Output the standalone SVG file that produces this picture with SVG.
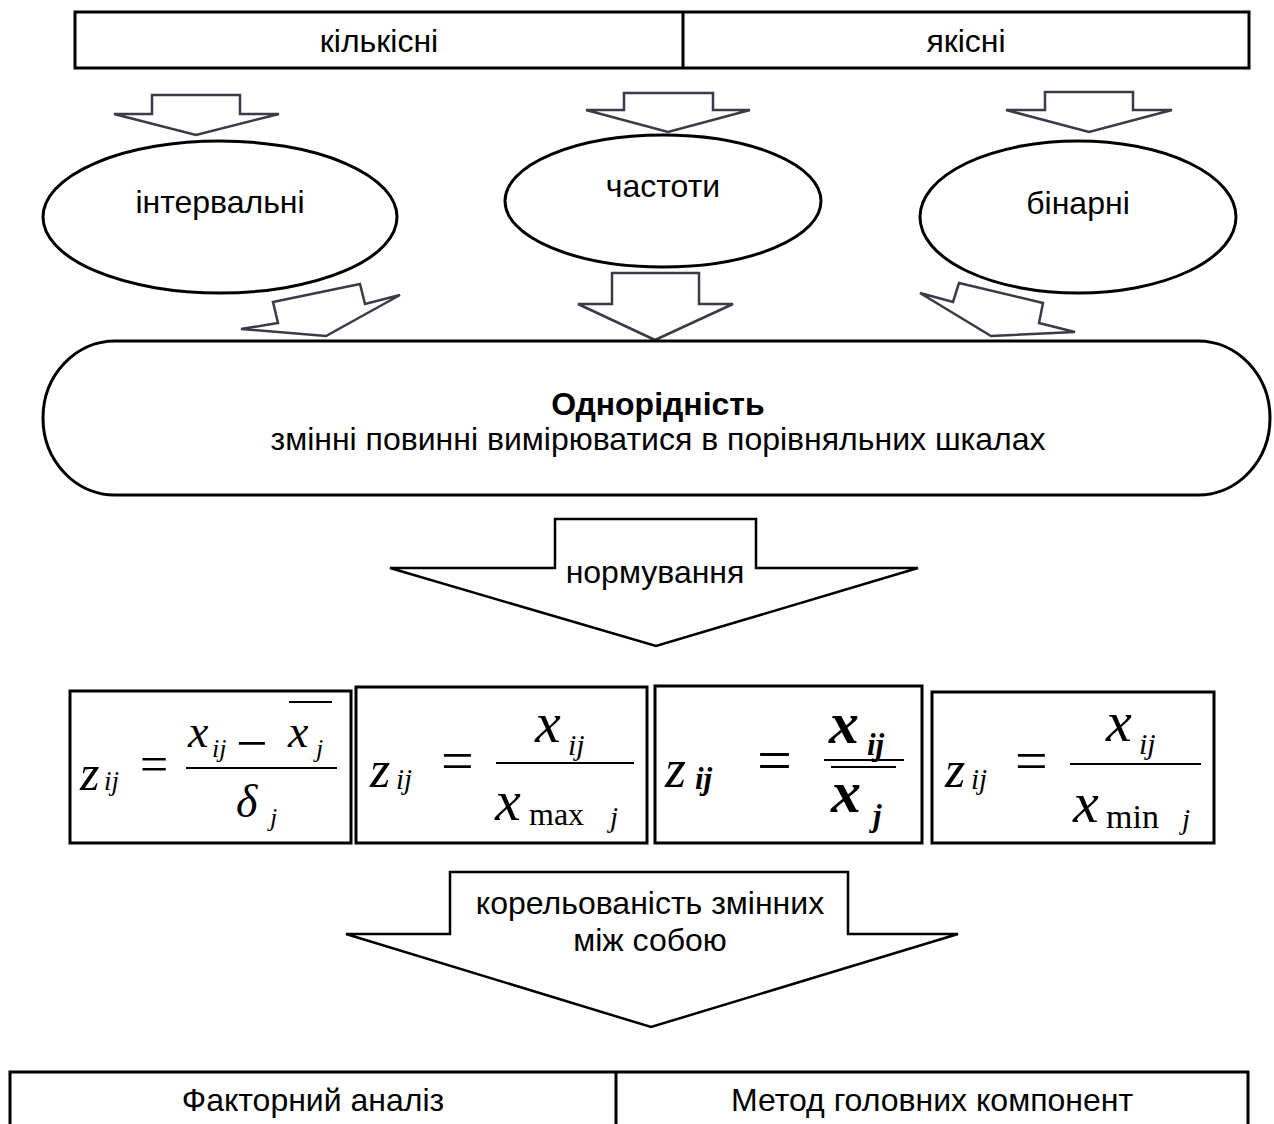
<svg xmlns="http://www.w3.org/2000/svg" width="1274" height="1124" viewBox="0 0 1274 1124">
<style>
.box{fill:#fff;stroke:#000;stroke-width:3}
.arr{fill:#fff;stroke:#3a3a48;stroke-width:2.5;stroke-linejoin:miter}
.barr{fill:#fff;stroke:#000;stroke-width:2.5}
.lbl{font-family:"Liberation Sans",Arial,sans-serif;font-size:32px;fill:#000;text-anchor:middle}
.m{font-family:"Liberation Serif","Times New Roman",serif;font-style:italic;fill:#000}
.r{font-family:"Liberation Serif","Times New Roman",serif;fill:#000}
.fl{stroke:#000;stroke-width:2}
</style>
<rect width="1274" height="1124" fill="#fff"/>
<g id="top-box">
<rect class="box" x="75" y="12" width="1174" height="56"/>
<line x1="683" y1="12" x2="683" y2="68" stroke="#000" stroke-width="3"/>
<text class="lbl" x="379" y="52">кількісні</text>
<text class="lbl" x="966" y="52">якісні</text>
</g>
<g id="connectors">
<polygon class="arr" points="152,95 240,95 240,114 279,114 196,135 114,114 152,114"/>
<polygon class="arr" points="624,93 713,93 713,110 750,110 668,132 586,110 624,110"/>
<polygon class="arr" points="1045,92 1133,92 1133,110 1172,110 1089,132 1006,110 1045,110"/>
<polygon class="arr" points="360,284 365,304 400,295 326,336 241,329 278,323 273,302"/>
<polygon class="arr" points="612,273 699,273 699,304 733,304 655,340 578,304 612,304"/>
<polygon class="arr" points="959,283 1043,303 1039,323 1075,332 991,336 920,293 953,302"/>
</g>
<g id="node-intervalni">
<ellipse class="box" cx="220" cy="217" rx="177" ry="76" stroke-width="2.5"/>
<text class="lbl" x="220" y="213">інтервальні</text>
</g>
<g id="node-chastoty">
<ellipse class="box" cx="663" cy="201" rx="158" ry="66" stroke-width="2.5"/>
<text class="lbl" x="663" y="197">частоти</text>
</g>
<g id="node-binarni">
<ellipse class="box" cx="1078" cy="217" rx="158" ry="76" stroke-width="2.5"/>
<text class="lbl" x="1078" y="214">бінарні</text>
</g>
<g id="node-odnoridnist">
<rect class="box" x="43" y="341" width="1227" height="154" rx="72" ry="77" stroke-width="3"/>
<text class="lbl" x="658" y="415" font-weight="bold">Однорідність</text>
<text class="lbl" x="658" y="450">змінні повинні вимірюватися в порівняльних шкалах</text>
</g>
<g id="node-normuvannia">
<polygon class="barr" points="555,519 756,519 756,568 918,568 656,646 390,568 555,568"/>
<text class="lbl" x="655" y="583">нормування</text>
</g>
<g id="formula-1">
<rect class="box" x="70" y="691" width="281" height="152"/>
<text class="m" x="80" y="790" font-size="50">z</text>
<text class="m" x="104" y="790" font-size="27">ij</text>
<text class="r" x="140" y="781" font-size="50">=</text>
<line class="fl" x1="186" y1="768" x2="337" y2="768"/>
<text class="m" x="188" y="747" font-size="46">x</text>
<text class="m" x="212" y="757" font-size="26">ij</text>
<text class="r" x="236" y="762" font-size="56">−</text>
<text class="m" x="288" y="747" font-size="46">x</text>
<text class="m" x="316" y="757" font-size="26">j</text>
<line class="fl" x1="289" y1="702" x2="332" y2="702"/>
<text class="m" x="236" y="817" font-size="46">δ</text>
<text class="m" x="270" y="826" font-size="26">j</text>
</g>
<g id="formula-2">
<rect class="box" x="356" y="687" width="291" height="156"/>
<text class="m" x="370" y="787" font-size="52">z</text>
<text class="m" x="396" y="789" font-size="29">ij</text>
<text class="r" x="441" y="780" font-size="58">=</text>
<line class="fl" x1="496" y1="763" x2="634" y2="763"/>
<text class="m" x="535" y="742" font-size="58">x</text>
<text class="m" x="568" y="755" font-size="30">ij</text>
<text class="m" x="495" y="820" font-size="58">x</text>
<text class="r" x="529" y="825" font-size="32">max</text>
<text class="m" x="610" y="827" font-size="29">j</text>
</g>
<g id="formula-3">
<rect class="box" x="655" y="686" width="267" height="157"/>
<text class="m" x="665" y="787" font-size="54">z</text>
<text class="m" x="695" y="789" font-size="31" font-weight="bold">ij</text>
<text class="r" x="757" y="781" font-size="62">=</text>
<line class="fl" x1="824" y1="760" x2="904" y2="760"/>
<line class="fl" x1="831" y1="767" x2="896" y2="767"/>
<text class="m" x="829" y="743" font-size="60" font-weight="bold">x</text>
<text class="m" x="867" y="755" font-size="31" font-weight="bold">ij</text>
<text class="m" x="831" y="812" font-size="60" font-weight="bold">x</text>
<text class="m" x="873" y="826" font-size="31" font-weight="bold">j</text>
</g>
<g id="formula-4">
<rect class="box" x="932" y="692" width="282" height="151"/>
<text class="m" x="945" y="787" font-size="52">z</text>
<text class="m" x="971" y="789" font-size="29">ij</text>
<text class="r" x="1015" y="780" font-size="58">=</text>
<line class="fl" x1="1070" y1="764" x2="1201" y2="764"/>
<text class="m" x="1106" y="741" font-size="58">x</text>
<text class="m" x="1139" y="754" font-size="30">ij</text>
<text class="m" x="1073" y="822" font-size="58">x</text>
<text class="r" x="1106" y="828" font-size="34">min</text>
<text class="m" x="1182" y="829" font-size="29">j</text>
</g>
<g id="node-korelovanist">
<polygon class="barr" points="450,872 848,872 848,934 958,934 651,1027 346,934 450,934"/>
<text class="lbl" x="650" y="914">корельованість змінних</text>
<text class="lbl" x="650" y="951">між собою</text>
</g>
<g id="bottom-box">
<rect class="box" x="10" y="1072" width="1238" height="80"/>
<line x1="616" y1="1072" x2="616" y2="1124" stroke="#000" stroke-width="3"/>
<text class="lbl" x="313" y="1111">Факторний аналіз</text>
<text class="lbl" x="932" y="1111">Метод головних компонент</text>
</g>
</svg>
